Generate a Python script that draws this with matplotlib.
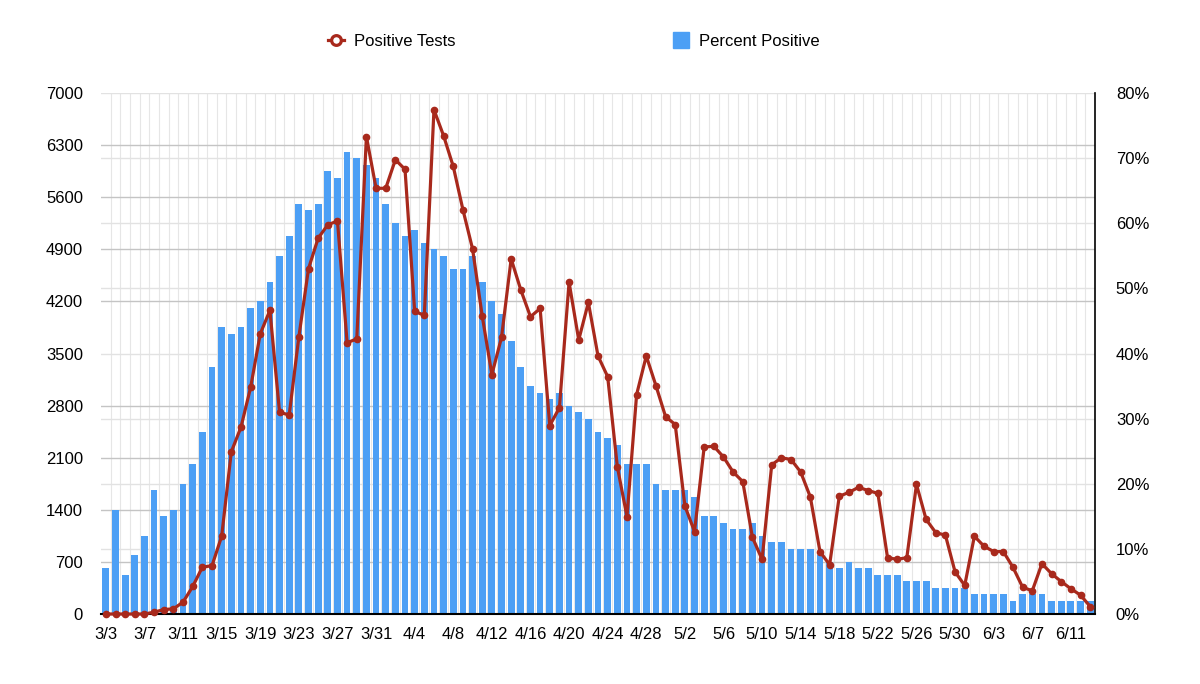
import matplotlib
matplotlib.use("Agg")
import matplotlib.pyplot as plt
from matplotlib.lines import Line2D
import numpy as np
import pandas as pd

plt.rcParams["font.family"] = ["Liberation Sans", "DejaVu Sans"]

# ---------------------------------------------------------------------------
# Data, one value per day 3/3 .. 6/13
# ---------------------------------------------------------------------------
dates = pd.date_range("2020-03-03", "2020-06-13", freq="D")
date_labels = [f"{d.month}/{d.day}" for d in dates]

positive_tests = [
    # March 3 - 31
    0, 0, 0, 0, 0, 25, 60, 70, 160, 370,
    630, 650, 1045, 2180, 2510, 3045, 3765, 4080, 2710, 2675,
    3725, 4640, 5050, 5230, 5280, 3645, 3697, 6415, 5720,
    # April
    5720, 6104, 5975, 4066, 4013, 6775, 6425, 6013, 5433, 4905,
    4004, 3217, 3716, 4771, 4354, 3994, 4105, 2532, 2772, 4459,
    3683, 4186, 3467, 3189, 1980, 1309, 2949, 3467, 3069, 2652,
    # May
    2546, 1453, 1108, 2244, 2254, 2110, 1908, 1779, 1031, 734,
    2004, 2100, 2076, 1908, 1573, 839, 662, 1582, 1635, 1702,
    1659, 1621, 758, 734, 758, 1741, 1271, 1093, 1060, 566, 384,
    # June 1 - 13
    1045, 911, 839, 839, 628, 360, 312, 676, 542, 436, 340, 254, 101,
]

percent_positive = [
    # March 3 - 31
    7, 16, 6, 9, 12, 19, 15, 16, 20, 23,
    28, 38, 44, 43, 44, 47, 48, 51, 55, 58,
    63, 62, 63, 68, 67, 71, 70, 69, 67,
    # April
    63, 60, 58, 59, 57, 56, 55, 53, 53, 55,
    51, 48, 46, 42, 38, 35, 34, 33, 34, 32,
    31, 30, 28, 27, 26, 23, 23, 23, 20, 19,
    # May
    19, 19, 18, 15, 15, 14, 13, 13, 14, 12,
    11, 11, 10, 10, 10, 9, 8, 7, 8, 7,
    7, 6, 6, 6, 5, 5, 5, 4, 4, 4, 4,
    # June 1 - 13
    3, 3, 3, 3, 2, 3, 3, 3, 2, 2, 2, 2, 2,
]

count_ticks = list(range(0, 7001, 700))
pct_ticks = list(range(0, 81, 10))

BLUE = "#4c9ff5"
RED = "#a8291c"

x = np.arange(len(dates))

fig = plt.figure(figsize=(12, 6.84), dpi=100)
ax = fig.add_axes([0.0842, 0.1023, 0.8283, 0.7617])
ax2 = ax.twinx()

# bars: percent positive (right axis)
ax.bar(x, percent_positive, width=0.7, color=BLUE, zorder=2)
ax.set_ylim(0, 80)
ax.set_xlim(-0.5, len(x) - 0.5)
ax.yaxis.tick_right()
ax.set_yticks(pct_ticks)
ax.set_yticklabels([f"{t}%" for t in pct_ticks])
# count grid lines (left axis positions) as minor ticks on the percent scale
ax.set_yticks([c / 7000 * 80 for c in count_ticks], minor=True)
ax.yaxis.grid(True, which="major", color="#e2e2e2", linewidth=1.0, zorder=0)
ax.yaxis.grid(True, which="minor", color="#c4c4c4", linewidth=1.0, zorder=0)
ax.set_xticks(x[::4])
ax.set_xticklabels(date_labels[::4])
ax.set_xticks(x[:-1] + 0.5, minor=True)
ax.xaxis.grid(True, which="minor", color="#e6e6e6", linewidth=0.8, zorder=0)
ax.set_axisbelow(True)
ax.tick_params(axis="both", which="both", length=0, labelsize=12)
ax.tick_params(axis="y", which="major", pad=15, labelleft=False, labelright=True)
ax.tick_params(axis="x", pad=9)
for side in ["top", "left"]:
    ax.spines[side].set_visible(False)
ax.spines["bottom"].set_color("black")
ax.spines["bottom"].set_linewidth(1.5)
ax.spines["right"].set_color("black")
ax.spines["right"].set_linewidth(1.2)

# line: positive tests (left axis)
ax2.plot(x, positive_tests, color=RED, linewidth=2.3, marker="o",
         markersize=4.5, zorder=3, clip_on=False)
ax2.set_ylim(0, 7000)
ax2.yaxis.tick_left()
ax2.set_yticks(count_ticks)
ax2.tick_params(axis="y", length=0, labelsize=12, pad=13,
                labelleft=True, labelright=False)
for spine in ax2.spines.values():
    spine.set_visible(False)

handles = [
    Line2D([], [], color=RED, linewidth=2.3, marker="o", markersize=7,
           markerfacecolor="white", markeredgewidth=2.3),
    Line2D([], [], color=BLUE, linestyle="none", marker="s", markersize=12),
]
fig.legend(handles, ["Positive Tests", "Percent Positive"], loc="center",
           bbox_to_anchor=(0.478, 0.94), ncol=2, frameon=False, fontsize=12,
           handlelength=1.0, handletextpad=0.6, columnspacing=13)

fig.savefig("out.png", dpi=100)
